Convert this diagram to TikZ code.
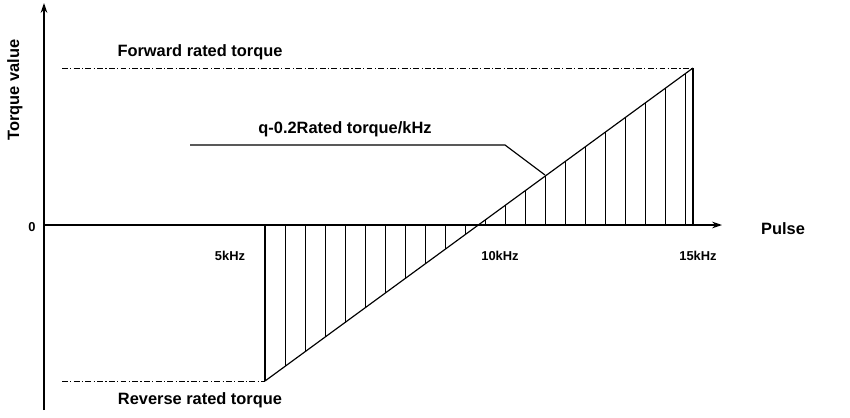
\documentclass[tikz,border=0pt]{standalone}
\usepackage{fontspec}
\setmainfont{Liberation Sans}
\usetikzlibrary{arrows.meta}

\begin{document}
\begin{tikzpicture}[
  x=0.03cm, y=-0.03cm,
  line width=1pt,
  lbl/.style={font=\bfseries\fontsize{14}{16}\selectfont},
  tick/.style={font=\bfseries\fontsize{11}{13}\selectfont},
  dashdot/.style={dash pattern=on 5pt off 2pt on 1pt off 2pt, line width=0.8pt}
]
\useasboundingbox (0,0) rectangle (850,417);

% ------------------- Axes ------------------- %
\coordinate (origin) at (44,225);
\coordinate (ytop) at (44,3);
\coordinate (xend) at (722,225);
\draw[-{Stealth[length=3mm,width=2mm]}] (44,410) -- (ytop);
\draw[-{Stealth[length=3mm,width=2mm]}] (origin) -- (xend);
\node[lbl, rotate=90] (ylab) at (15,90) {Torque value};
\node[lbl] (xlab) at (783,229) {Pulse};
\node[tick] (zero) at (32,227) {0};

% ------------------- Rated torque limits ------------------- %
\coordinate (fwd) at (693,68);
\coordinate (rev) at (265,381);
\coordinate (fwdbase) at (693,225);
\coordinate (revbase) at (265,225);
\draw[dashdot] (62,68) -- (fwd);
\draw[dashdot] (62,381) -- (rev);
\node[lbl] (fwdlab) at (200,52) {Forward rated torque};
\node[lbl] (revlab) at (200,400) {Reverse rated torque};

% Slope line and vertical edges
\draw (rev) -- (fwd);
\draw (fwd) -- (fwdbase);
\draw (revbase) -- (rev);

% Hatching
\foreach \i in {285,305,...,685} {
  \pgfmathsetmacro{\yy}{381-(\i-265)/428*313}
  \draw[line width=0.6pt] (\i,225) -- (\i,\yy);
}

% Tick labels
\node[tick] (f5) at (230,256) {5kHz};
\node[tick] (f10) at (500,256) {10kHz};
\node[tick] (f15) at (698,256) {15kHz};

% Slope annotation
\node[lbl] (slope) at (345,129) {q-0.2Rated torque/kHz};
\coordinate (ulstart) at (190,145);
\coordinate (ulend) at (505,145);
\coordinate (hit) at (545,175);
\draw (ulstart) -- (ulend) -- (hit);

\end{tikzpicture}
\end{document}
